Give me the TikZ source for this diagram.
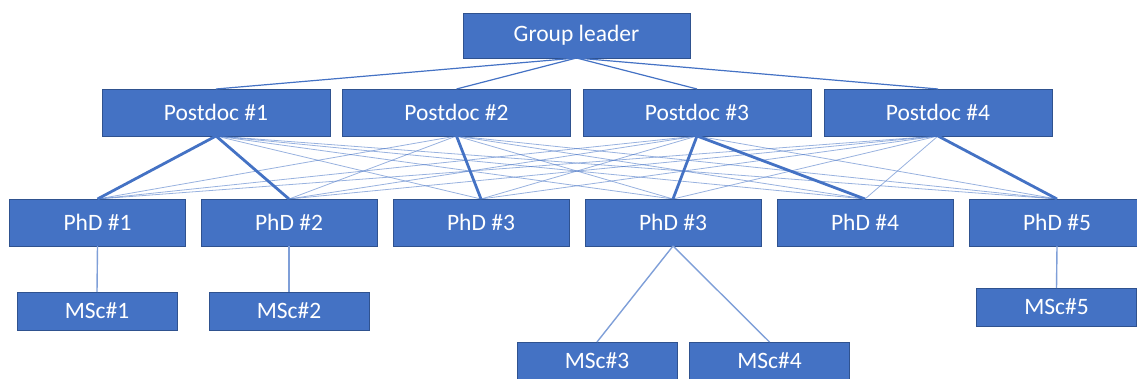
\documentclass[tikz,border=0pt]{standalone}
\usepackage{fontspec}
\setmainfont{Carlito}
\usepackage{tikz}
\definecolor{officeblue}{HTML}{4472C4}
\definecolor{boxborder}{HTML}{2F528F}
\definecolor{paleblue}{HTML}{7F9FD8}

\begin{document}
\begin{tikzpicture}[x=1pt,y=-1pt]
  \tikzset{BoxStyle/.style = {
    shape         = rectangle,
    draw          = boxborder,
    fill          = officeblue,
    line width    = 0.8pt,
    text          = white,
    inner sep     = 0pt,
    outer sep     = 0pt,
    minimum width = 176pt,
    minimum height= 47pt,
    font          = \fontsize{23.5}{28}\selectfont
    }
  }
  \tikzset{LeadEdgeStyle/.style = {
    draw          = officeblue,
    line width    = 1.2pt
    }
  }
  \tikzset{ThinEdgeStyle/.style = {
    draw          = officeblue,
    draw opacity  = 0.55,
    line width    = 0.8pt
    }
  }
  \tikzset{ThickEdgeStyle/.style = {
    draw          = officeblue,
    line width    = 2.8pt
    }
  }
  \tikzset{MscEdgeStyle/.style = {
    draw          = paleblue,
    line width    = 1.4pt
    }
  }
  \useasboundingbox (0,0) rectangle (1137,379);

	\node[BoxStyle, minimum width=227pt, minimum height=45pt](G1) at (576.5, 35.5) {Group leader};
	\node[BoxStyle, minimum width=228pt](P1) at (216, 112.5) {Postdoc \#1};
	\node[BoxStyle, minimum width=228pt](P2) at (456.5, 112.5) {Postdoc \#2};
	\node[BoxStyle, minimum width=228pt](P3) at (697, 112.5) {Postdoc \#3};
	\node[BoxStyle, minimum width=228pt](P4) at (938, 112.5) {Postdoc \#4};
	\node[BoxStyle](D1) at (97.5, 222.5) {PhD \#1};
	\node[BoxStyle](D2) at (289, 222.5) {PhD \#2};
	\node[BoxStyle](D3) at (481, 222.5) {PhD \#3};
	\node[BoxStyle](D4) at (673, 222.5) {PhD \#3};
	\node[BoxStyle](D5) at (865, 222.5) {PhD \#4};
	\node[BoxStyle](D6) at (1057, 222.5) {PhD \#5};
	\node[BoxStyle, minimum width=160pt, minimum height=38pt](M1) at (97, 311) {MSc\#1};
	\node[BoxStyle, minimum width=160pt, minimum height=38pt](M2) at (289, 311) {MSc\#2};
	\node[BoxStyle, minimum width=160pt, minimum height=38pt](M3) at (597, 361) {MSc\#3};
	\node[BoxStyle, minimum width=160pt, minimum height=38pt](M4) at (769.5, 361) {MSc\#4};
	\node[BoxStyle, minimum width=160pt, minimum height=38pt](M5) at (1056.5, 307) {MSc\#5};

	\draw[LeadEdgeStyle](G1.south) to (P1.north);
	\draw[LeadEdgeStyle](G1.south) to (P2.north);
	\draw[LeadEdgeStyle](G1.south) to (P3.north);
	\draw[LeadEdgeStyle](G1.south) to (P4.north);

	\draw[ThinEdgeStyle](P1.south) to (D3.north);
	\draw[ThinEdgeStyle](P1.south) to (D4.north);
	\draw[ThinEdgeStyle](P1.south) to (D5.north);
	\draw[ThinEdgeStyle](P1.south) to (D6.north);
	\draw[ThinEdgeStyle](P2.south) to (D1.north);
	\draw[ThinEdgeStyle](P2.south) to (D2.north);
	\draw[ThinEdgeStyle](P2.south) to (D4.north);
	\draw[ThinEdgeStyle](P2.south) to (D5.north);
	\draw[ThinEdgeStyle](P2.south) to (D6.north);
	\draw[ThinEdgeStyle](P3.south) to (D1.north);
	\draw[ThinEdgeStyle](P3.south) to (D2.north);
	\draw[ThinEdgeStyle](P3.south) to (D3.north);
	\draw[ThinEdgeStyle](P3.south) to (D6.north);
	\draw[ThinEdgeStyle](P4.south) to (D1.north);
	\draw[ThinEdgeStyle](P4.south) to (D2.north);
	\draw[ThinEdgeStyle](P4.south) to (D3.north);
	\draw[ThinEdgeStyle](P4.south) to (D4.north);
	\draw[ThinEdgeStyle](P4.south) to (D5.north);

	\draw[ThickEdgeStyle](P1.south) to (D1.north);
	\draw[ThickEdgeStyle](P1.south) to (D2.north);
	\draw[ThickEdgeStyle](P2.south) to (D3.north);
	\draw[ThickEdgeStyle](P3.south) to (D4.north);
	\draw[ThickEdgeStyle](P3.south) to (D5.north);
	\draw[ThickEdgeStyle](P4.south) to (D6.north);

	\draw[MscEdgeStyle](D1.south) to (M1.north);
	\draw[MscEdgeStyle](D2.south) to (M2.north);
	\draw[MscEdgeStyle](D4.south) to (M3.north);
	\draw[MscEdgeStyle](D4.south) to (M4.north);
	\draw[MscEdgeStyle](D6.south) to (M5.north);

\end{tikzpicture}
\end{document}
